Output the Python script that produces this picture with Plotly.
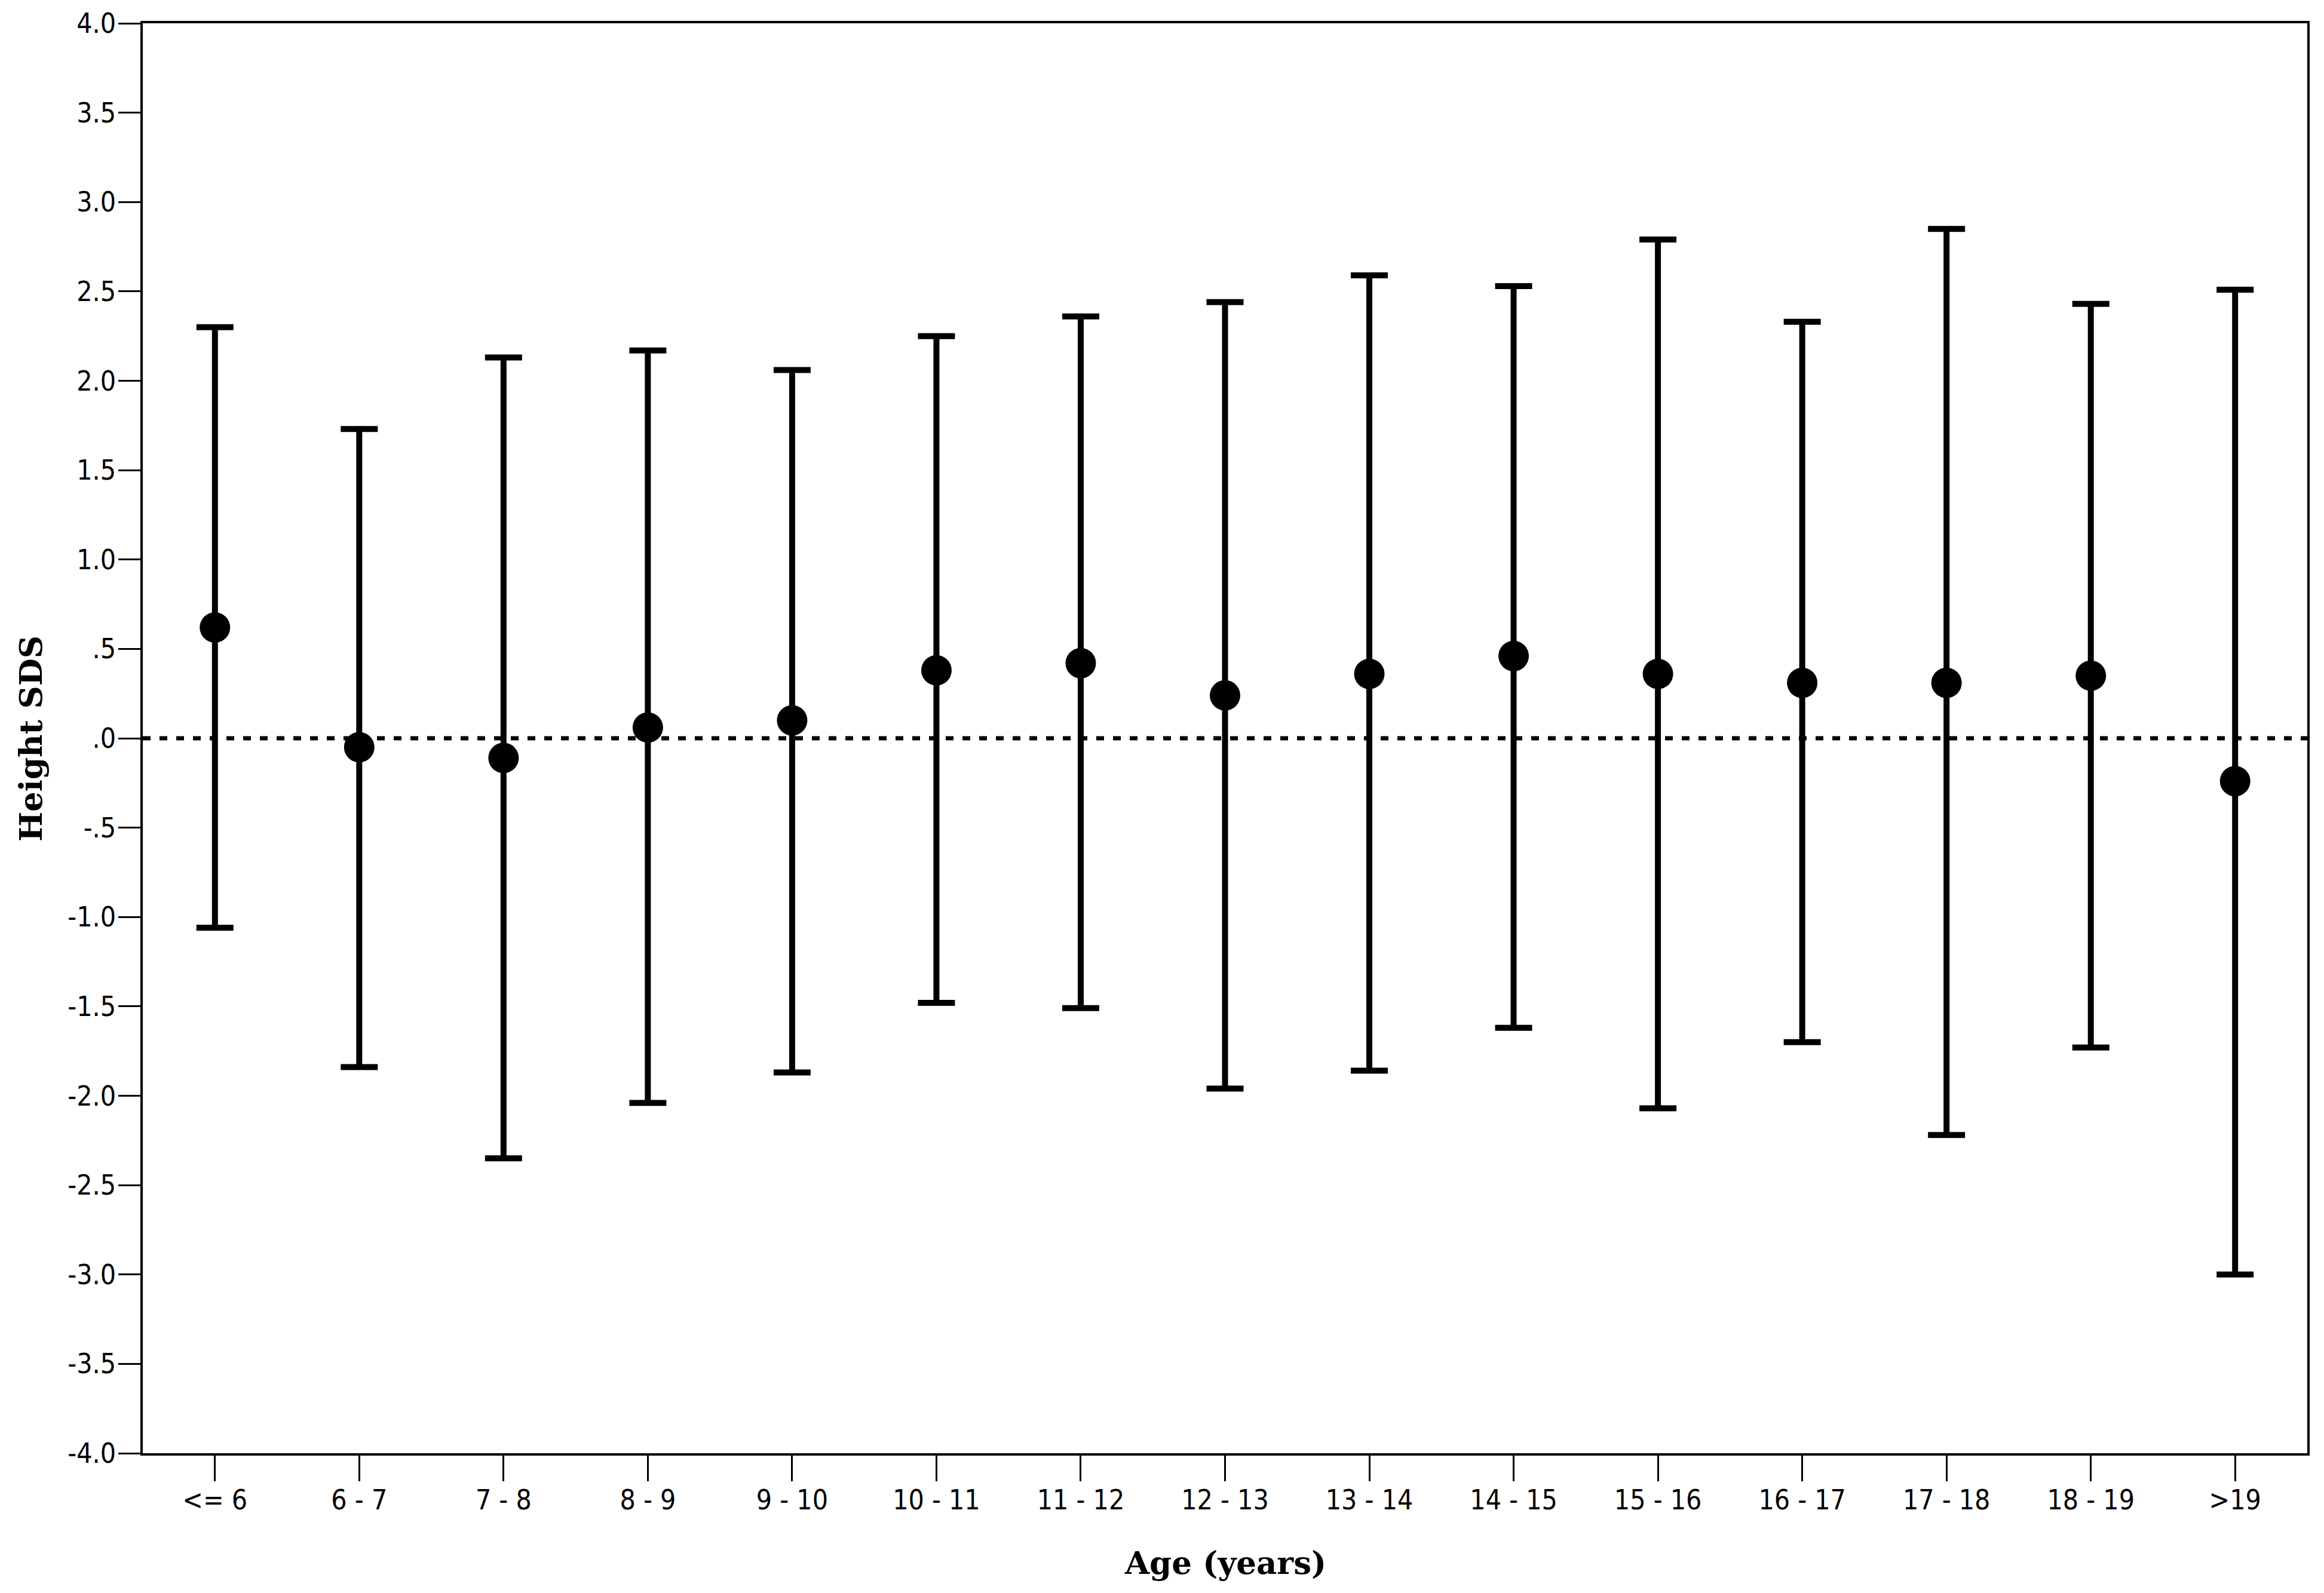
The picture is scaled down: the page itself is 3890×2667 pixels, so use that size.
import plotly.graph_objects as go

# age groups and height SDS (mean with error bar ends)
age_groups = ['<= 6', '6 - 7', '7 - 8', '8 - 9', '9 - 10', '10 - 11', '11 - 12', '12 - 13',
              '13 - 14', '14 - 15', '15 - 16', '16 - 17', '17 - 18', '18 - 19', '>19']
mean_sds = [0.62, -0.05, -0.11, 0.06, 0.10, 0.38, 0.42, 0.24, 0.36, 0.46, 0.36, 0.31, 0.31, 0.35, -0.24]
upper_sds = [2.30, 1.73, 2.13, 2.17, 2.06, 2.25, 2.36, 2.44, 2.59, 2.53, 2.79, 2.33, 2.85, 2.43, 2.51]
lower_sds = [-1.06, -1.84, -2.35, -2.04, -1.87, -1.48, -1.51, -1.96, -1.86, -1.62, -2.07, -1.70, -2.22, -1.73, -3.00]

y_ticks = [4.0, 3.5, 3.0, 2.5, 2.0, 1.5, 1.0, 0.5, 0.0, -0.5, -1.0, -1.5, -2.0, -2.5, -3.0, -3.5, -4.0]
y_tick_labels = ['4.0', '3.5', '3.0', '2.5', '2.0', '1.5', '1.0', '.5', '.0', '-.5',
                 '-1.0', '-1.5', '-2.0', '-2.5', '-3.0', '-3.5', '-4.0']

tick_font = dict(family='Liberation Sans Narrow, DejaVu Sans Condensed, Liberation Sans, sans-serif',
                 size=46, color='black')
title_font = dict(family='DejaVu Serif, Liberation Serif, serif', size=53, color='black', weight='bold')

fig = go.Figure()

fig.add_trace(go.Scatter(
    x=age_groups, y=mean_sds, mode='markers', showlegend=False,
    marker=dict(color='black', size=51),
    error_y=dict(type='data', symmetric=False,
                 array=[u - m for u, m in zip(upper_sds, mean_sds)],
                 arrayminus=[m - l for m, l in zip(mean_sds, lower_sds)],
                 color='black', thickness=10, width=31)))

# reference line at 0
fig.add_hline(y=0, line=dict(color='black', width=7, dash='13px,15px'))

fig.update_xaxes(type='category', range=[-0.5, 14.5], showgrid=False, zeroline=False,
                 showline=True, linecolor='black', linewidth=3.5, mirror=True,
                 ticks='outside', ticklen=43, tickwidth=3, tickcolor='black',
                 tickfont=tick_font, ticklabelstandoff=-8)
fig.update_yaxes(range=[-4, 4], tickvals=y_ticks, ticktext=y_tick_labels,
                 showgrid=False, zeroline=False,
                 showline=True, linecolor='black', linewidth=3.5, mirror=True,
                 ticks='outside', ticklen=37, tickwidth=3, tickcolor='black',
                 tickfont=tick_font, ticklabelstandoff=-5)

fig.add_annotation(text='Height SDS', xref='paper', yref='paper', x=-0.0519, y=0.5,
                   xanchor='center', yanchor='middle',
                   textangle=-90, showarrow=False, font=title_font)
fig.add_annotation(text='Age (years)', xref='paper', yref='paper', x=0.5, y=-0.0765,
                   xanchor='center', yanchor='middle',
                   showarrow=False, font=title_font)

fig.update_layout(width=3890, height=2667, plot_bgcolor='white', paper_bgcolor='white',
                  margin=dict(l=239, r=28, t=39, b=234))

fig.write_html("out.html", config={'displayModeBar': False},
               post_script="document.body.style.margin='0';")
